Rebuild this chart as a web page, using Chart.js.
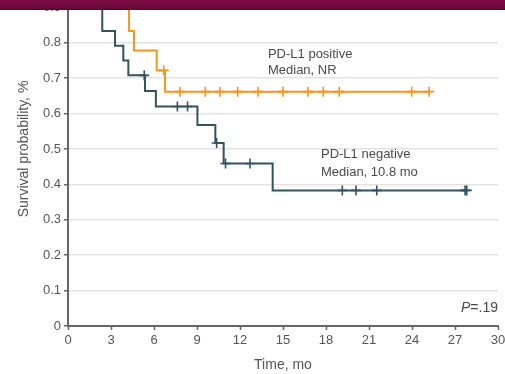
<!DOCTYPE html>
<html><head><meta charset="utf-8">
<script src="https://cdn.jsdelivr.net/npm/chart.js@4.4.1/dist/chart.umd.min.js"></script>
<style>
html,body{margin:0;padding:0;background:#fff;overflow:hidden;width:505px;height:374px;}
#wrap{position:absolute;left:0;top:-40px;width:505px;height:414px;}
#bar{position:absolute;left:0;top:0;width:505px;height:10px;background:linear-gradient(#7a0c43,#700a3d 65%,#58042f);z-index:2;}
</style></head><body>
<div id="wrap"><canvas id="c" width="505" height="414"></canvas></div>
<div id="bar"></div>
<script>
// ---- data ----
const xTickValues = [0, 3, 6, 9, 12, 15, 18, 21, 24, 27, 30];
const yTickValues = [0, 0.1, 0.2, 0.3, 0.4, 0.5, 0.6, 0.7, 0.8, 0.9, 1.0];
const yTickLabels = ['0', '0.1', '0.2', '0.3', '0.4', '0.5', '0.6', '0.7', '0.8', '0.9', '1.0'];

// PD-L1 positive (Kaplan-Meier steps)
const posTimes = [0, 4.26, 4.6, 6.19, 6.77, 25.2];
const posSurv = [1.0, 0.833, 0.778, 0.722, 0.662, 0.662];
const posCensorTimes = [6.68, 7.81, 9.58, 10.6, 11.84, 13.26, 15.0, 16.74, 17.81, 18.93, 23.98, 25.2];
const posCensorSurv = [0.722, 0.662, 0.662, 0.662, 0.662, 0.662, 0.662, 0.662, 0.662, 0.662, 0.662, 0.662];

// PD-L1 negative
const negTimes = [0, 2.39, 3.28, 3.86, 4.21, 5.37, 6.13, 9.03, 10.28, 10.86, 14.28, 27.82];
const negSurv = [1.0, 0.833, 0.792, 0.75, 0.708, 0.664, 0.620, 0.568, 0.517, 0.459, 0.383, 0.383];
const negCensorTimes = [5.32, 7.63, 8.34, 10.37, 10.99, 12.7, 19.14, 20.09, 21.54, 27.7, 27.82];
const negCensorSurv = [0.708, 0.620, 0.620, 0.517, 0.459, 0.459, 0.383, 0.383, 0.383, 0.383, 0.383];

const notes = [
  {text: 'PD-L1 positive', x: 13.95, y: 0.757},
  {text: 'Median, NR', x: 13.95, y: 0.711},
  {text: 'PD-L1 negative', x: 17.65, y: 0.4746},
  {text: 'Median, 10.8 mo', x: 17.65, y: 0.4237}
];

const FONT = '"Liberation Sans", Arial, sans-serif';
const ORANGE = '#f7941d';
const TEAL = '#34535e';
const AXIS = '#666666';

const pts = (xs, ys) => xs.map((t, i) => ({x: t, y: ys[i]}));

const notesPlugin = {
  id: 'notes',
  afterDatasetsDraw(chart) {
    const {ctx, scales: {x, y}} = chart;
    ctx.save();
    ctx.fillStyle = '#4b4b4b';
    ctx.font = '13px ' + FONT;
    ctx.textBaseline = 'alphabetic';
    ctx.textAlign = 'left';
    notes.forEach(n => ctx.fillText(n.text, x.getPixelForValue(n.x), y.getPixelForValue(n.y)));
    const px = x.getPixelForValue(30), py = y.getPixelForValue(0.04);
    ctx.textAlign = 'right';
    ctx.font = '14px ' + FONT;
    const rest = '=.19';
    ctx.fillText(rest, px, py);
    const w = ctx.measureText(rest).width;
    ctx.font = 'italic 14px ' + FONT;
    ctx.fillText('P', px - w, py);
    ctx.restore();
  }
};

new Chart(document.getElementById('c'), {
  type: 'scatter',
  data: {
    datasets: [
      {data: pts(posTimes, posSurv), showLine: true, stepped: 'before', borderColor: ORANGE, borderWidth: 2, pointRadius: 0, fill: false},
      {data: pts(negTimes, negSurv), showLine: true, stepped: 'before', borderColor: TEAL, borderWidth: 2, pointRadius: 0, fill: false},
      {data: pts(posCensorTimes, posCensorSurv), showLine: false, pointStyle: 'cross', pointRadius: 5, borderColor: ORANGE, pointBorderWidth: 1.6, backgroundColor: ORANGE},
      {data: pts(negCensorTimes, negCensorSurv), showLine: false, pointStyle: 'cross', pointRadius: 5, borderColor: TEAL, pointBorderWidth: 1.6, backgroundColor: TEAL}
    ]
  },
  options: {
    responsive: false,
    devicePixelRatio: 1,
    animation: false,
    events: [],
    layout: {padding: {left: 16, right: 7, top: 12, bottom: 0}},
    plugins: {legend: {display: false}, tooltip: {enabled: false}},
    scales: {
      x: {
        type: 'linear', min: 0, max: 30,
        afterBuildTicks: s => { s.ticks = xTickValues.map(v => ({value: v})); },
        afterFit: s => { s.height = 48; s.paddingLeft = 0; s.paddingRight = 0; },
        ticks: {color: '#555', font: {family: FONT, size: 13}, padding: 3, maxRotation: 0, autoSkip: false,
                callback: v => String(v)},
        grid: {drawOnChartArea: false, drawTicks: true, tickLength: 4, tickColor: AXIS, tickWidth: 1.5},
        border: {color: AXIS, width: 2},
        title: {display: true, text: 'Time, mo', color: '#555', font: {family: FONT, size: 14}, padding: 0}
      },
      y: {
        type: 'linear', min: 0, max: 1.0,
        afterBuildTicks: s => { s.ticks = yTickValues.map(v => ({value: v})); },
        afterFit: s => { s.width = 52; s.paddingTop = 0; s.paddingBottom = 0; },
        ticks: {color: '#555', font: {family: FONT, size: 13}, padding: 3, autoSkip: false,
                callback: (v, i) => yTickLabels[i]},
        grid: {color: c => (c.tick && c.tick.value === 0) ? 'rgba(0,0,0,0)' : '#e3e3e3', lineWidth: 1.5,
               drawTicks: true, tickLength: 4, tickColor: AXIS, tickWidth: 1.5},
        border: {color: AXIS, width: 2},
        title: {display: true, text: 'Survival probability, %', color: '#555', font: {family: FONT, size: 14}, padding: 0}
      }
    }
  },
  plugins: [notesPlugin]
});
</script>
</body></html>
